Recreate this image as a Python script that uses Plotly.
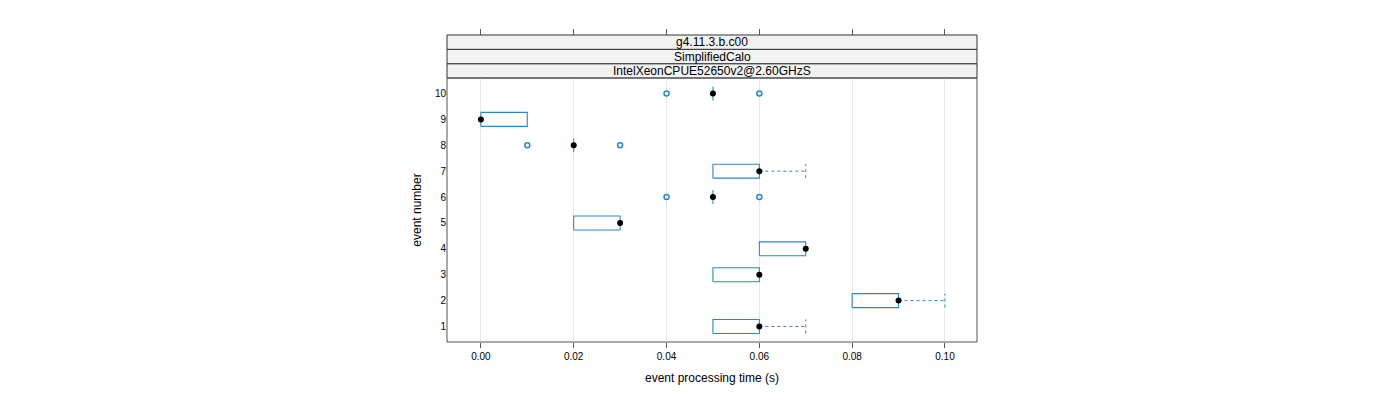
import plotly.graph_objects as go

# ---- data ----
events = [1, 2, 3, 4, 5, 6, 7, 8, 9, 10]
q1 = [0.05, 0.08, 0.05, 0.06, 0.02, 0.05, 0.05, 0.02, 0.00, 0.05]
q3 = [0.06, 0.09, 0.06, 0.07, 0.03, 0.05, 0.06, 0.02, 0.01, 0.05]
med = [0.06, 0.09, 0.06, 0.07, 0.03, 0.05, 0.06, 0.02, 0.00, 0.05]
whisker_hi = [0.07, 0.10, 0.06, 0.07, 0.03, 0.05, 0.07, 0.02, 0.01, 0.05]
outlier_event = [6, 6, 8, 8, 10, 10]
outlier_time = [0.04, 0.06, 0.01, 0.03, 0.04, 0.06]
x_ticks = [0.00, 0.02, 0.04, 0.06, 0.08, 0.10]
x_tick_labels = ["0.00", "0.02", "0.04", "0.06", "0.08", "0.10"]
strip_labels = ["g4.11.3.b.c00", "SimplifiedCalo", "IntelXeonCPUE52650v2@2.60GHzS"]

BLUE = "#2a88c8"
HALF = 0.27
FONT = "Liberation Sans, Arial, sans-serif"

# box outlines
bx, by = [], []
for e, a, b in zip(events, q1, q3):
    bx += [a, b, b, a, a, None]
    by += [e - HALF, e - HALF, e + HALF, e + HALF, e - HALF, None]

# whiskers + caps
wx, wy = [], []
for e, b, h in zip(events, q3, whisker_hi):
    if h > b:
        wx += [b, h, None, h, h, None]
        wy += [e, e, None, e - HALF, e + HALF, None]

fig = go.Figure()
fig.add_trace(go.Scatter(x=bx, y=by, mode="lines", line=dict(color=BLUE, width=1.1),
                         hoverinfo="skip", showlegend=False))
fig.add_trace(go.Scatter(x=wx, y=wy, mode="lines", line=dict(color=BLUE, width=1, dash="3px,3px"),
                         hoverinfo="skip", showlegend=False))
fig.add_trace(go.Scatter(x=outlier_time, y=outlier_event, mode="markers",
                         marker=dict(symbol="circle-open", size=5, color=BLUE, line=dict(width=1.5)),
                         showlegend=False))
fig.add_trace(go.Scatter(x=med, y=events, mode="markers",
                         marker=dict(symbol="circle", size=6, color="black"),
                         showlegend=False))
# dummy trace for top tick axis
fig.add_trace(go.Scatter(x=[x_ticks[0]], y=[events[0]], xaxis="x2", mode="markers",
                         marker=dict(opacity=0), hoverinfo="skip", showlegend=False))

PANEL_TOP = 264 / 307
strip_edges = [PANEL_TOP, (342 - 63.7) / 307, (342 - 49.3) / 307, 1.0]

shapes = []
annotations = []
for i, lab in enumerate(reversed(strip_labels)):
    y0, y1 = strip_edges[i], strip_edges[i + 1]
    shapes.append(dict(type="rect", xref="paper", yref="paper", x0=0, x1=1, y0=y0, y1=y1,
                       fillcolor="#f2f2f2", line=dict(color="#333333", width=1), layer="below"))
    annotations.append(dict(text=lab, xref="paper", yref="paper", x=0.5, y=(y0 + y1) / 2,
                            showarrow=False, font=dict(family=FONT, size=12, color="black"),
                            xanchor="center", yanchor="middle"))
shapes.append(dict(type="rect", xref="paper", yref="paper", x0=0, x1=1, y0=0, y1=PANEL_TOP,
                   line=dict(color="#555555", width=1), fillcolor="rgba(0,0,0,0)", layer="above"))

fig.update_layout(
    width=1384, height=384,
    margin=dict(l=439, r=415, t=27, b=50, autoexpand=False),
    paper_bgcolor="white", plot_bgcolor="white",
    font=dict(family=FONT, color="black"),
    shapes=shapes, annotations=annotations,
    xaxis=dict(range=[-0.0073, 0.1069], tickvals=x_ticks, ticktext=x_tick_labels,
               ticks="outside", ticklen=5, tickcolor="#555555", tickfont=dict(size=10),
               showgrid=True, gridcolor="#e8e8e8", gridwidth=1, zeroline=False,
               showline=False, automargin=False,
               title=dict(text="event processing time (s)", font=dict(size=12), standoff=12)),
    xaxis2=dict(overlaying="x", matches="x", anchor="free", position=1.0, side="top",
                tickvals=x_ticks, showticklabels=False, ticks="outside", ticklen=6,
                tickcolor="#555555", showgrid=False, zeroline=False, showline=False,
                automargin=False),
    yaxis=dict(domain=[0, PANEL_TOP], range=[0.4, 10.6], tickvals=events,
               ticktext=[str(e) for e in events], ticks="", tickfont=dict(size=10),
               showgrid=False, zeroline=False, showline=False, automargin=False,
               title=dict(text="event number", font=dict(size=12), standoff=10)),
)

fig.write_html("out.html")
